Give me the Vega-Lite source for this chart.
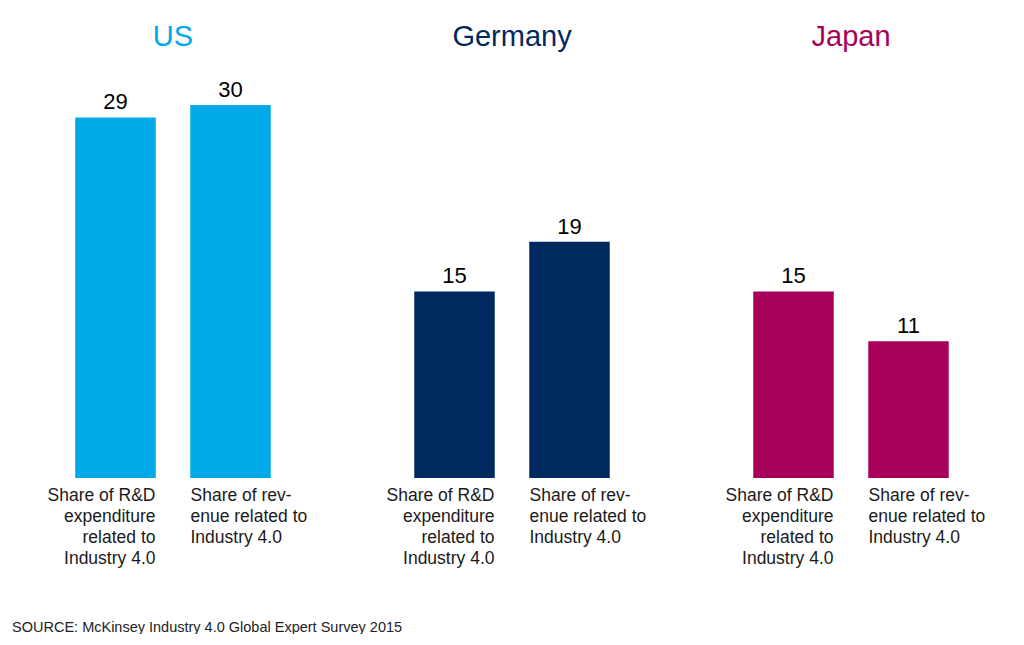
{
  "$schema": "https://vega.github.io/schema/vega-lite/v6.json",
  "background": "white",
  "padding": {"left": 12, "top": 23, "right": 0, "bottom": 0},
  "bounds": "flush",
  "config": {
    "view": {"stroke": null},
    "font": "Liberation Sans",
    "concat": {"spacing": 109}
  },
  "data": {
    "values": [
      {"country": "US", "measure": "Share of R&D\nexpenditure\nrelated to\nIndustry 4.0", "value": 29},
      {"country": "US", "measure": "Share of rev-\nenue related to\nIndustry 4.0", "value": 30},
      {"country": "Germany", "measure": "Share of R&D\nexpenditure\nrelated to\nIndustry 4.0", "value": 15},
      {"country": "Germany", "measure": "Share of rev-\nenue related to\nIndustry 4.0", "value": 19},
      {"country": "Japan", "measure": "Share of R&D\nexpenditure\nrelated to\nIndustry 4.0", "value": 15},
      {"country": "Japan", "measure": "Share of rev-\nenue related to\nIndustry 4.0", "value": 11}
    ]
  },
  "title": {
    "text": "SOURCE: McKinsey Industry 4.0 Global Expert Survey 2015",
    "orient": "bottom",
    "anchor": "start",
    "frame": "bounds",
    "fontSize": 14.5,
    "fontWeight": "normal",
    "color": "#222222",
    "baseline": "alphabetic",
    "dx": -35,
    "offset": 65
  },
  "hconcat": [
    {
      "title": {"text": "US", "color": "#00A9E8", "fontSize": 29, "fontWeight": "normal", "baseline": "alphabetic", "offset": 0},
      "transform": [{"filter": "datum.country == 'US'"}],
      "width": 230,
      "height": 403,
      "encoding": {
        "x": {
          "field": "measure", "type": "nominal", "sort": null, "title": null,
          "scale": {"paddingInner": 0.3, "paddingOuter": 0.15},
          "axis": {
            "domain": false, "ticks": false, "labelAngle": 0, "labelOverlap": false,
            "labelFontSize": 17.5, "labelColor": "#1a1a1a", "labelLineHeight": 21, "labelPadding": 8,
            "labelBaseline": "top", "labelLimit": 300,
            "labelExpr": "split(datum.label, '\\n')",
            "labelAlign": {"condition": {"test": "indexof(datum.value, 'R&D') >= 0", "value": "right"}, "value": "left"},
            "labelOffset": {"condition": {"test": "indexof(datum.value, 'R&D') >= 0", "value": 40}, "value": -40}
          }
        },
        "y": {"field": "value", "type": "quantitative", "scale": {"domain": [0, 32.41], "nice": false}, "axis": null}
      },
      "layer": [
        {"mark": {"type": "bar", "color": "#00A9E8"}},
        {"mark": {"type": "text", "fontSize": 22, "baseline": "alphabetic", "dy": -8, "color": "#000000"}, "encoding": {"text": {"field": "value"}}}
      ]
    },
    {
      "title": {"text": "Germany", "color": "#002960", "fontSize": 29, "fontWeight": "normal", "baseline": "alphabetic", "offset": 0},
      "transform": [{"filter": "datum.country == 'Germany'"}],
      "width": 230,
      "height": 403,
      "encoding": {
        "x": {
          "field": "measure", "type": "nominal", "sort": null, "title": null,
          "scale": {"paddingInner": 0.3, "paddingOuter": 0.15},
          "axis": {
            "domain": false, "ticks": false, "labelAngle": 0, "labelOverlap": false,
            "labelFontSize": 17.5, "labelColor": "#1a1a1a", "labelLineHeight": 21, "labelPadding": 8,
            "labelBaseline": "top", "labelLimit": 300,
            "labelExpr": "split(datum.label, '\\n')",
            "labelAlign": {"condition": {"test": "indexof(datum.value, 'R&D') >= 0", "value": "right"}, "value": "left"},
            "labelOffset": {"condition": {"test": "indexof(datum.value, 'R&D') >= 0", "value": 40}, "value": -40}
          }
        },
        "y": {"field": "value", "type": "quantitative", "scale": {"domain": [0, 32.41], "nice": false}, "axis": null}
      },
      "layer": [
        {"mark": {"type": "bar", "color": "#002960"}},
        {"mark": {"type": "text", "fontSize": 22, "baseline": "alphabetic", "dy": -8, "color": "#000000"}, "encoding": {"text": {"field": "value"}}}
      ]
    },
    {
      "title": {"text": "Japan", "color": "#A8005A", "fontSize": 29, "fontWeight": "normal", "baseline": "alphabetic", "offset": 0},
      "transform": [{"filter": "datum.country == 'Japan'"}],
      "width": 230,
      "height": 403,
      "encoding": {
        "x": {
          "field": "measure", "type": "nominal", "sort": null, "title": null,
          "scale": {"paddingInner": 0.3, "paddingOuter": 0.15},
          "axis": {
            "domain": false, "ticks": false, "labelAngle": 0, "labelOverlap": false,
            "labelFontSize": 17.5, "labelColor": "#1a1a1a", "labelLineHeight": 21, "labelPadding": 8,
            "labelBaseline": "top", "labelLimit": 300,
            "labelExpr": "split(datum.label, '\\n')",
            "labelAlign": {"condition": {"test": "indexof(datum.value, 'R&D') >= 0", "value": "right"}, "value": "left"},
            "labelOffset": {"condition": {"test": "indexof(datum.value, 'R&D') >= 0", "value": 40}, "value": -40}
          }
        },
        "y": {"field": "value", "type": "quantitative", "scale": {"domain": [0, 32.41], "nice": false}, "axis": null}
      },
      "layer": [
        {"mark": {"type": "bar", "color": "#A8005A"}},
        {"mark": {"type": "text", "fontSize": 22, "baseline": "alphabetic", "dy": -8, "color": "#000000"}, "encoding": {"text": {"field": "value"}}}
      ]
    }
  ]
}
